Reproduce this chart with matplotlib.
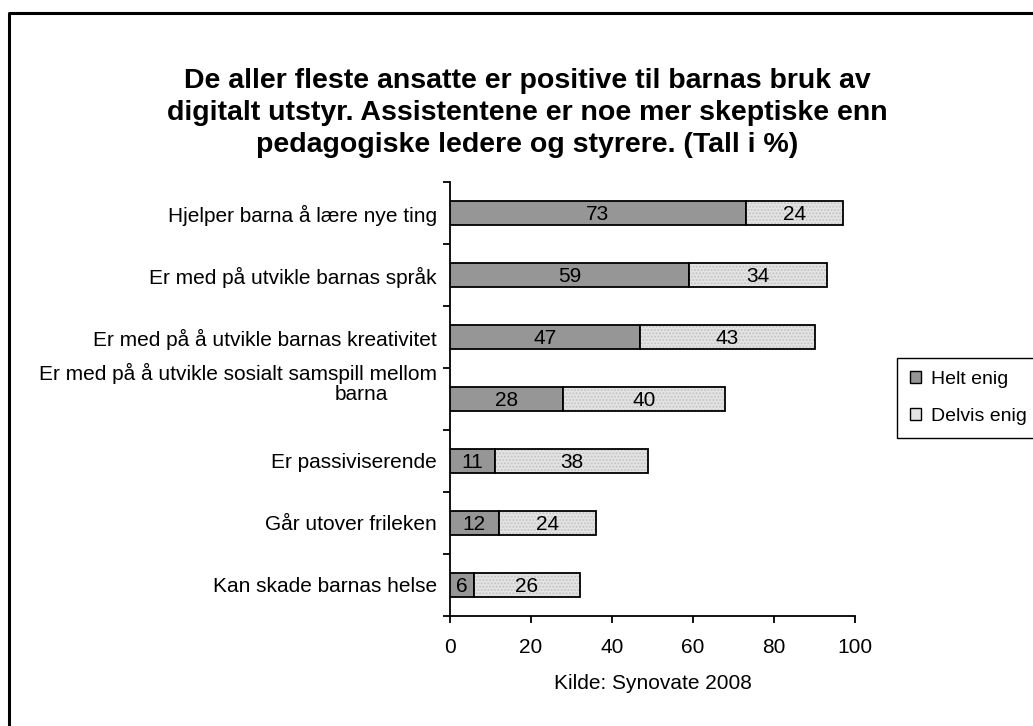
import matplotlib.pyplot as plt
import numpy as np
from matplotlib.patches import Patch
from matplotlib.lines import Line2D
from matplotlib.transforms import ScaledTranslation

plt.rcParams['font.family'] = ['Liberation Sans', 'DejaVu Sans']

# data
kategorier = [
    'Hjelper barna å lære nye ting',
    'Er med på utvikle barnas språk',
    'Er med på å utvikle barnas kreativitet',
    'Er med på å utvikle sosialt samspill mellom',
    'Er passiviserende',
    'Går utover frileken',
    'Kan skade barnas helse',
]
helt_enig = [73, 59, 47, 28, 11, 12, 6]
delvis_enig = [24, 34, 43, 40, 38, 24, 26]
x_ticks = [0, 20, 40, 60, 80, 100]

tittel = ('De aller fleste ansatte er positive til barnas bruk av\n'
          'digitalt utstyr. Assistentene er noe mer skeptiske enn\n'
          'pedagogiske ledere og styrere. (Tall i %)')

fs = 15

fig = plt.figure(figsize=(10.33, 7.26), dpi=100)
ax = fig.add_axes([450 / 1033, 1 - 616 / 726, 405 / 1033, 434 / 726])

y = np.arange(len(kategorier))[::-1]
h = 0.39

mork = '#969696'
lys = '#e4e4e4'

ax.barh(y, helt_enig, height=h, color=mork, edgecolor='black', linewidth=1.3, zorder=3)
# lys del med prikkemønster
ax.barh(y, delvis_enig, left=helt_enig, height=h, color=lys, edgecolor='#c4c4c4',
        hatch='.....', linewidth=0, zorder=3)
ax.barh(y, delvis_enig, left=helt_enig, height=h, fill=False, edgecolor='black',
        linewidth=1.3, zorder=4)

# verdier i stolpene
for yi, a, b in zip(y, helt_enig, delvis_enig):
    ax.text(a / 2, yi, str(a), ha='center', va='center_baseline', fontsize=fs, zorder=5)
    ax.text(a + b / 2, yi, str(b), ha='center', va='center_baseline', fontsize=fs, zorder=5)

ax.set_xlim(0, 100)
ax.set_ylim(-0.5, len(kategorier) - 0.5)
ax.set_xticks(x_ticks)
ax.set_xticklabels([str(t) for t in x_ticks], fontsize=fs)
ax.tick_params(axis='x', length=5, width=1.3, pad=11, direction='out')

ax.set_yticks(y)
ax.set_yticklabels(kategorier, fontsize=fs)
ax.set_yticks(np.arange(-0.5, len(kategorier)), minor=True)
ax.tick_params(axis='y', which='major', length=0, pad=9.5)
ax.tick_params(axis='y', which='minor', length=5, width=1.3, direction='out')

# flerlinjet etikett flyttes opp
lab = ax.get_yticklabels()[3]
lab.set_transform(lab.get_transform() + ScaledTranslation(0, 0.28, fig.dpi_scale_trans))
ax.annotate('barna', xy=(0, y[3]), xycoords=('axes fraction', 'data'),
            xytext=(-62, 4), textcoords='offset pixels', ha='right', va='center',
            fontsize=fs)

for s in ['top', 'right']:
    ax.spines[s].set_visible(False)
for s in ['left', 'bottom']:
    ax.spines[s].set_linewidth(1.3)

ax.set_xlabel('Kilde: Synovate 2008', fontsize=fs, labelpad=12)

fig.text(527 / 1033, 1 - 113 / 726, tittel, ha='center', va='center', fontsize=20.5,
         fontweight='bold', linespacing=1.32)

handles = [Patch(facecolor=mork, edgecolor='black', linewidth=1.0),
           Patch(facecolor=lys, edgecolor='black', linewidth=1.0)]
leg = fig.legend(handles, ['Helt enig', 'Delvis enig'], loc='upper left',
                 bbox_to_anchor=(897 / 1033, 1 - 358 / 726), fontsize=14,
                 frameon=True, fancybox=False, edgecolor='black', framealpha=1,
                 handlelength=0.6, handleheight=0.6, handletextpad=0.5,
                 labelspacing=1.05, borderpad=0.65, borderaxespad=0)
leg.get_frame().set_linewidth(1.0)

# ramme rundt figuren
fig.add_artist(Line2D([9 / 1033, 9 / 1033, 1], [0, 1 - 13 / 726, 1 - 13 / 726],
                      transform=fig.transFigure, color='black', linewidth=2.2))

fig.savefig('out.png', dpi=100)
